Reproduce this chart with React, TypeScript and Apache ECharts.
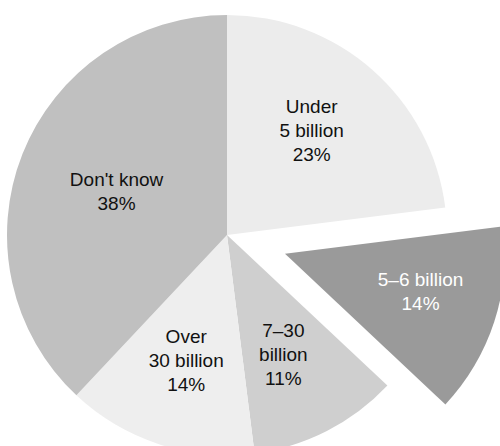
import React, { useEffect, useRef } from "react";
import * as echarts from "echarts";

const categories = ["Under\n5 billion", "5–6 billion", "7–30\nbillion", "Over\n30 billion", "Don't know"];
const values = [23, 14, 11, 14, 38];
const colors = ["#ececec", "#9a9a9a", "#cfcfcf", "#eeeeee", "#c0c0c0"];
const labelColors = ["#111", "#ffffff", "#111", "#111", "#111"];
const labelRadiusFactor = [0.61, 0.64, 0.6, 0.6, 0.54];
const labelAngleShift = [-0.04, -0.04, 0.03, 0, 0];
const exploded = [false, true, false, false, false];

const CENTER: [number, number] = [227, 235];
const RADIUS = 220;
const OFFSET = 61;

export default function App() {
  const ref = useRef<HTMLDivElement>(null);
  useEffect(() => {
    document.body.style.margin = "0";
    const chart = echarts.init(ref.current!, undefined, { renderer: "svg" });
    const total = values.reduce((a, b) => a + b, 0);
    const mids: number[] = [];
    let acc = 0;
    values.forEach((v) => {
      mids.push(((acc + v / 2) / total) * 2 * Math.PI);
      acc += v;
    });
    const makeSeries = (isExploded: boolean) => {
      let cx = CENTER[0];
      let cy = CENTER[1];
      if (isExploded) {
        const idx = exploded.indexOf(true);
        cx += OFFSET * Math.sin(mids[idx]);
        cy -= OFFSET * Math.cos(mids[idx]);
      }
      return {
        type: "pie",
        center: [cx, cy],
        radius: [0, RADIUS],
        startAngle: 90,
        clockwise: true,
        silent: true,
        avoidLabelOverlap: false,
        emphasis: { disabled: true },
        label: {
          show: true,
          position: "inside",
          fontFamily: "Liberation Sans, Arial, sans-serif",
          fontSize: 19,
          lineHeight: 24,
          align: "center",
          verticalAlign: "middle",
          formatter: (p: any) => `${p.name}\n${p.value}%`,
        },
        labelLine: { show: false },
        labelLayout: (p: any) => {
          const i = p.dataIndex;
          const a = mids[i] + labelAngleShift[i];
          const r = RADIUS * labelRadiusFactor[i];
          return {
            x: cx + r * Math.sin(a),
            y: cy - r * Math.cos(a),
            align: "center",
            verticalAlign: "middle",
          };
        },
        data: categories.map((name, i) => {
          const visible = exploded[i] === isExploded;
          return {
            name,
            value: values[i],
            itemStyle: {
              color: visible ? colors[i] : "rgba(0,0,0,0)",
              borderWidth: 0,
            },
            label: { show: visible, color: labelColors[i] },
          };
        }),
      };
    };
    chart.setOption({
      animation: false,
      series: [makeSeries(false), makeSeries(true)],
    });
    return () => chart.dispose();
  }, []);
  return <div ref={ref} style={{ width: 500, height: 446 }} />;
}
